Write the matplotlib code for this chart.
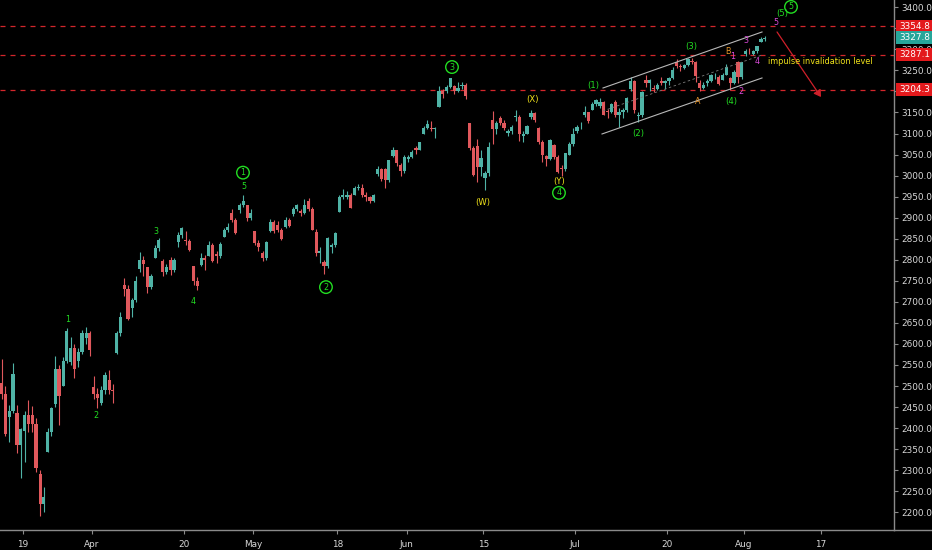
import matplotlib
matplotlib.use("Agg")
import matplotlib.pyplot as plt
from matplotlib import font_manager
from matplotlib.patches import Rectangle, FancyArrowPatch
import matplotlib.transforms as mtransforms
import numpy as np
import pandas as pd

# ---------------- data ----------------
first_day = "2020-03-16"
holidays = ["2020-04-10", "2020-05-25", "2020-07-03"]
n_days = 100          # trading days with candles (Mar 16 .. Aug 5)

# two candles per trading day (morning / afternoon)
opens = [
    2508, 2480, 2426, 2440, 2436, 2360, 2393, 2430, 2432, 2410,
    2291, 2220, 2344, 2390, 2458, 2540, 2501, 2560, 2556, 2590,
    2559, 2580, 2615, 2625, 2498, 2480, 2459, 2490, 2515, 2490,
    2578, 2625, 2739, 2730, 2685, 2705, 2777, 2800, 2782, 2735,
    2805, 2828, 2796, 2770, 2799, 2775, 2842, 2860, 2846, 2845,
    2785, 2750, 2788, 2805, 2810, 2835, 2813, 2810, 2855, 2870,
    2910, 2895, 2918, 2930, 2931, 2900, 2869, 2840, 2815, 2805,
    2869, 2890, 2883, 2870, 2878, 2895, 2909, 2920, 2915, 2910,
    2940, 2920, 2866, 2815, 2795, 2785, 2830, 2835, 2914, 2950,
    2949, 2955, 2954, 2970, 2970, 2955, 2948, 2940, 3004, 3015,
    3016, 2990, 3047, 3060, 3025, 3010, 3039, 3045, 3065, 3062,
    3099, 3112, 3112, 3110, 3164, 3200, 3200, 3210, 3213, 3200,
    3213, 3215, 3124, 3065, 3071, 3020, 2994, 3005, 3131, 3110,
    3136, 3125, 3102, 3105, 3140, 3140, 3094, 3100, 3139, 3148,
    3114, 3080, 3047, 3040, 3073, 3045, 3019, 3015, 3050, 3075,
    3106, 3115, 3144, 3150, 3155, 3170, 3166, 3175, 3153, 3150,
    3176, 3145, 3152, 3155, 3205, 3225, 3141, 3145, 3226, 3220,
    3208, 3205, 3224, 3220, 3224, 3232, 3269, 3260, 3255, 3262,
    3272, 3270, 3219, 3208, 3220, 3225, 3234, 3235, 3227, 3240,
    3232, 3220, 3270, 3235, 3288, 3296, 3290, 3295, 3317, 3325,
]
highs = [
    2563, 2500, 2455, 2554, 2454, 2400, 2440, 2467, 2453, 2425,
    2301, 2260, 2400, 2450, 2571, 2550, 2570, 2637, 2616, 2600,
    2590, 2632, 2641, 2630, 2523, 2495, 2500, 2533, 2538, 2505,
    2630, 2677, 2757, 2740, 2710, 2761, 2819, 2810, 2782, 2765,
    2835, 2852, 2802, 2790, 2807, 2803, 2865, 2879, 2869, 2850,
    2786, 2760, 2815, 2812, 2845, 2840, 2820, 2843, 2875, 2888,
    2921, 2900, 2935, 2955, 2931, 2920, 2869, 2848, 2822, 2844,
    2898, 2895, 2891, 2875, 2902, 2900, 2925, 2932, 2920, 2944,
    2946, 2925, 2874, 2830, 2800, 2853, 2840, 2865, 2955, 2968,
    2964, 2958, 2975, 2980, 2979, 2960, 2952, 2957, 3022, 3018,
    3018, 3036, 3069, 3062, 3030, 3049, 3050, 3062, 3070, 3081,
    3118, 3131, 3129, 3115, 3212, 3205, 3215, 3233, 3215, 3223,
    3223, 3220, 3124, 3070, 3088, 3060, 3010, 3080, 3153, 3130,
    3141, 3132, 3110, 3120, 3156, 3145, 3105, 3121, 3155, 3152,
    3115, 3085, 3050, 3086, 3074, 3050, 3025, 3054, 3080, 3112,
    3120, 3128, 3166, 3152, 3175, 3183, 3184, 3178, 3158, 3172,
    3180, 3160, 3160, 3187, 3235, 3228, 3150, 3201, 3238, 3230,
    3215, 3220, 3234, 3228, 3235, 3259, 3277, 3265, 3265, 3279,
    3280, 3272, 3227, 3222, 3230, 3241, 3244, 3238, 3245, 3265,
    3235, 3251, 3272, 3271, 3300, 3303, 3298, 3307, 3330, 3331,
]
lows = [
    2470, 2381, 2367, 2435, 2340, 2281, 2320, 2390, 2390, 2296,
    2192, 2200, 2344, 2380, 2450, 2408, 2501, 2555, 2550, 2520,
    2545, 2575, 2600, 2571, 2470, 2447, 2456, 2480, 2480, 2460,
    2575, 2620, 2715, 2658, 2663, 2700, 2770, 2762, 2721, 2730,
    2805, 2820, 2762, 2765, 2764, 2772, 2831, 2852, 2835, 2820,
    2740, 2727, 2785, 2776, 2808, 2794, 2792, 2805, 2853, 2865,
    2890, 2861, 2912, 2925, 2892, 2895, 2835, 2822, 2798, 2800,
    2866, 2864, 2865, 2848, 2876, 2878, 2903, 2915, 2903, 2908,
    2915, 2870, 2810, 2793, 2767, 2780, 2817, 2830, 2914, 2945,
    2945, 2922, 2954, 2965, 2950, 2939, 2934, 2938, 3000, 2988,
    2970, 2985, 3045, 3023, 2999, 3005, 3032, 3042, 3052, 3060,
    3099, 3110, 3105, 3090, 3164, 3185, 3196, 3208, 3193, 3198,
    3205, 3181, 3060, 2999, 2984, 3000, 2966, 3000, 3076, 3100,
    3120, 3108, 3094, 3100, 3130, 3083, 3079, 3098, 3135, 3127,
    3075, 3032, 3024, 3038, 3040, 3005, 3000, 3012, 3048, 3070,
    3101, 3110, 3140, 3125, 3155, 3165, 3160, 3143, 3137, 3148,
    3140, 3116, 3136, 3150, 3200, 3149, 3128, 3140, 3210, 3201,
    3199, 3203, 3215, 3206, 3215, 3230, 3255, 3248, 3253, 3260,
    3265, 3223, 3200, 3205, 3214, 3222, 3230, 3216, 3227, 3238,
    3204, 3218, 3220, 3230, 3285, 3290, 3286, 3292, 3317, 3320,
]
closes = [
    2480, 2386, 2440, 2529, 2360, 2398, 2430, 2409, 2410, 2305,
    2220, 2237, 2390, 2447, 2540, 2476, 2560, 2630, 2590, 2541,
    2580, 2627, 2625, 2585, 2480, 2471, 2490, 2527, 2490, 2489,
    2625, 2664, 2730, 2659, 2705, 2750, 2800, 2790, 2735, 2762,
    2828, 2846, 2770, 2783, 2775, 2800, 2860, 2875, 2845, 2823,
    2750, 2737, 2805, 2799, 2835, 2798, 2810, 2837, 2870, 2878,
    2895, 2863, 2930, 2940, 2900, 2912, 2840, 2831, 2805, 2843,
    2890, 2868, 2870, 2849, 2895, 2881, 2920, 2930, 2910, 2930,
    2920, 2871, 2815, 2820, 2785, 2852, 2835, 2864, 2950, 2954,
    2955, 2923, 2970, 2972, 2955, 2949, 2940, 2955, 3015, 2992,
    2990, 3036, 3060, 3030, 3010, 3044, 3045, 3056, 3062, 3081,
    3112, 3123, 3110, 3112, 3200, 3194, 3210, 3232, 3200, 3207,
    3215, 3190, 3065, 3002, 3020, 3041, 3005, 3067, 3110, 3125,
    3125, 3113, 3105, 3115, 3140, 3098, 3100, 3118, 3148, 3131,
    3080, 3050, 3040, 3084, 3045, 3009, 3015, 3053, 3075, 3100,
    3115, 3116, 3150, 3130, 3170, 3180, 3175, 3145, 3150, 3170,
    3145, 3152, 3155, 3185, 3225, 3155, 3145, 3198, 3220, 3227,
    3205, 3216, 3220, 3225, 3232, 3252, 3260, 3257, 3262, 3276,
    3270, 3236, 3208, 3216, 3225, 3239, 3235, 3218, 3240, 3258,
    3220, 3246, 3235, 3271, 3296, 3295, 3295, 3307, 3325, 3328,
]

tick_dates = ["2020-03-19", "2020-04-01", "2020-04-20", "2020-05-01", "2020-05-18",
              "2020-06-01", "2020-06-15", "2020-07-01", "2020-07-20", "2020-08-03",
              "2020-08-17"]
tick_labels = ["19", "Apr", "20", "May", "18", "Jun", "15", "Jul", "20", "Aug", "17"]
price_ticks = list(range(2200, 3401, 50))

levels = [3354.8, 3287.1, 3204.3]
last_price = 3327.8

# wave labels: (text, x in trading-day units from Mar 16, price)
minor_green = [("1", 8.87, 2657), ("2", 12.52, 2431), ("3", 20.34, 2866),
               ("4", 25.17, 2700), ("5", 31.81, 2975)]
circled_green = [("1", 31.68, 3007), ("2", 42.50, 2735), ("3", 58.93, 3258),
                 ("4", 72.88, 2959), ("5", 103.13, 3401)]
paren_green = [("(1)", 77.32, 3213), ("(2)", 83.18, 3099), ("(3)", 90.09, 3307),
               ("(4)", 95.31, 3175), ("(5)", 101.96, 3386)]
yellow_labels = [("(W)", 62.97, 2937), ("(X)", 69.49, 3180), ("(Y)", 72.88, 2986)]
orange_labels = [("A", 91.01, 3177), ("B", 94.92, 3294)]
magenta_labels = [("1", 95.57, 3282), ("2", 96.61, 3199), ("3", 97.26, 3320),
                  ("4", 98.70, 3272), ("5", 101.18, 3365)]
note_text = "impulse invalidation level"
note_pos = (100.13, 3272)

channel_upper = ([78.62, 99.35], [3208.2, 3341.3])
channel_lower = ([78.49, 99.35], [3098.9, 3232.0])
channel_mid = ([78.60, 99.35], [3153.6, 3286.6])
arrow_from = (101.31, 3341.3)
arrow_to = (107.04, 3186.8)

# ---------------- fonts ----------------
names = {f.name for f in font_manager.fontManager.ttflist}
if "Liberation Sans Narrow" in names:
    FONT = ["Liberation Sans Narrow", "DejaVu Sans"]
    FS = 8.0
    NOTE_FS = 7.6
else:
    FONT = ["DejaVu Sans"]
    FS = 6.4
    NOTE_FS = 5.9
plt.rcParams["font.family"] = FONT

# ---------------- figure ----------------
W, H = 932, 550
fig = plt.figure(figsize=(W / 100, H / 100), dpi=100, facecolor="black")
ax = fig.add_axes([0, 20 / H, 894 / W, 530 / H])
ax.set_facecolor("black")

cal = pd.bdate_range(first_day, "2020-09-30", freq="C", holidays=holidays)
cal_pos = {d.strftime("%Y-%m-%d"): i for i, d in enumerate(cal)}

x = []
for d in range(n_days):
    x += [d + 0.23, d + 0.70]
x = np.array(x)
o = np.array(opens, float)
h = np.array(highs, float)
l = np.array(lows, float)
c = np.array(closes, float)
UP, DOWN = "#4fb3a6", "#e0585c"
cols = np.where(c >= o, UP, DOWN)
ax.vlines(x, l, h, colors=cols, lw=0.8, zorder=3)
body_b = np.minimum(o, c)
body_h = np.maximum(np.abs(c - o), 1.2)
ax.bar(x, body_h, bottom=body_b, width=0.42, color=cols, lw=0, zorder=4)

ax.set_xlim(0, 116.56)
ax.set_ylim(2157.8, 3417.3)

# horizontal levels
for lv in levels:
    ax.axhline(lv, color="#d3262b", lw=0.9, ls=(0, (4, 4)), zorder=2)

# channel
ax.plot(*channel_upper, color="#b8b8b8", lw=0.8, zorder=5)
ax.plot(*channel_lower, color="#b8b8b8", lw=0.8, zorder=5)
ax.plot(*channel_mid, color="#7a7a7a", lw=0.6, ls=(0, (3, 3)), zorder=5)

# arrow
ax.add_patch(FancyArrowPatch(arrow_from, arrow_to, arrowstyle="-|>,head_length=4,head_width=2.5",
                             color="#d0202a", lw=0.9, zorder=6, shrinkA=0, shrinkB=0))

GREEN, YELLOW, ORANGE, MAG = "#22dd22", "#f0e21a", "#e8952a", "#d84ad8"
for t, xx, yy in minor_green:
    ax.text(xx, yy, t, color=GREEN, fontsize=FS - 0.6, ha="center", va="center", zorder=7)
for t, xx, yy in circled_green:
    ax.text(xx, yy, t, color=GREEN, fontsize=FS - 0.6, ha="center", va="center", zorder=7,
            bbox=dict(boxstyle="circle,pad=0.22", fc="none", ec=GREEN, lw=1.0))
for t, xx, yy in paren_green:
    ax.text(xx, yy, t, color=GREEN, fontsize=FS - 0.3, ha="center", va="center", zorder=7)
for t, xx, yy in yellow_labels:
    ax.text(xx, yy, t, color=YELLOW, fontsize=FS - 0.3, ha="center", va="center", zorder=7)
for t, xx, yy in orange_labels:
    ax.text(xx, yy, t, color=ORANGE, fontsize=FS - 0.6, ha="center", va="center", zorder=7)
for t, xx, yy in magenta_labels:
    ax.text(xx, yy, t, color=MAG, fontsize=FS - 0.6, ha="center", va="center", zorder=7)
ax.text(note_pos[0], note_pos[1], note_text, color=YELLOW, fontsize=NOTE_FS,
        ha="left", va="center", zorder=7)

# axes styling
for s in ["top", "left"]:
    ax.spines[s].set_visible(False)
for s in ["right", "bottom"]:
    ax.spines[s].set_color("#8a8a8a")
    ax.spines[s].set_linewidth(1.0)
ax.yaxis.tick_right()
ax.set_yticks(price_ticks)
box_levels = levels + [last_price]
ax.set_yticklabels(["" if min(abs(v - b) for b in box_levels) < 10 else f"{v:.1f}"
                    for v in price_ticks])
ax.set_xticks([cal_pos[d] for d in tick_dates])
ax.set_xticklabels(tick_labels)
ax.tick_params(axis="y", colors="#8a8a8a", labelcolor="#d8d8d8", length=3, width=0.8,
               pad=2, labelsize=FS)
ax.tick_params(axis="x", colors="#8a8a8a", labelcolor="#d8d8d8", length=3, width=0.8,
               pad=4, labelsize=FS)

# continue the bottom axis line under the price scale
fig.add_artist(plt.Line2D([894 / W, 1.0], [20 / H, 20 / H], color="#8a8a8a", lw=1.0,
                          transform=fig.transFigure))

# price boxes on the scale
trans = mtransforms.blended_transform_factory(fig.transFigure, ax.transData)
box_h = 30.0
for lv, colr in [(levels[0], "#e3191c"), (last_price, "#26a69a"),
                 (levels[1], "#e3191c"), (levels[2], "#e3191c")]:
    ax.add_patch(Rectangle((895.5 / W, lv - box_h / 2), 1 - 895.5 / W, box_h, transform=trans,
                           facecolor=colr, edgecolor="none", clip_on=False, zorder=20))
    ax.text(899 / W, lv, f"{lv:.1f}", transform=trans, color="white", fontsize=FS,
            ha="left", va="center", clip_on=False, zorder=21)

fig.savefig("out.png", dpi=100, facecolor="black")
